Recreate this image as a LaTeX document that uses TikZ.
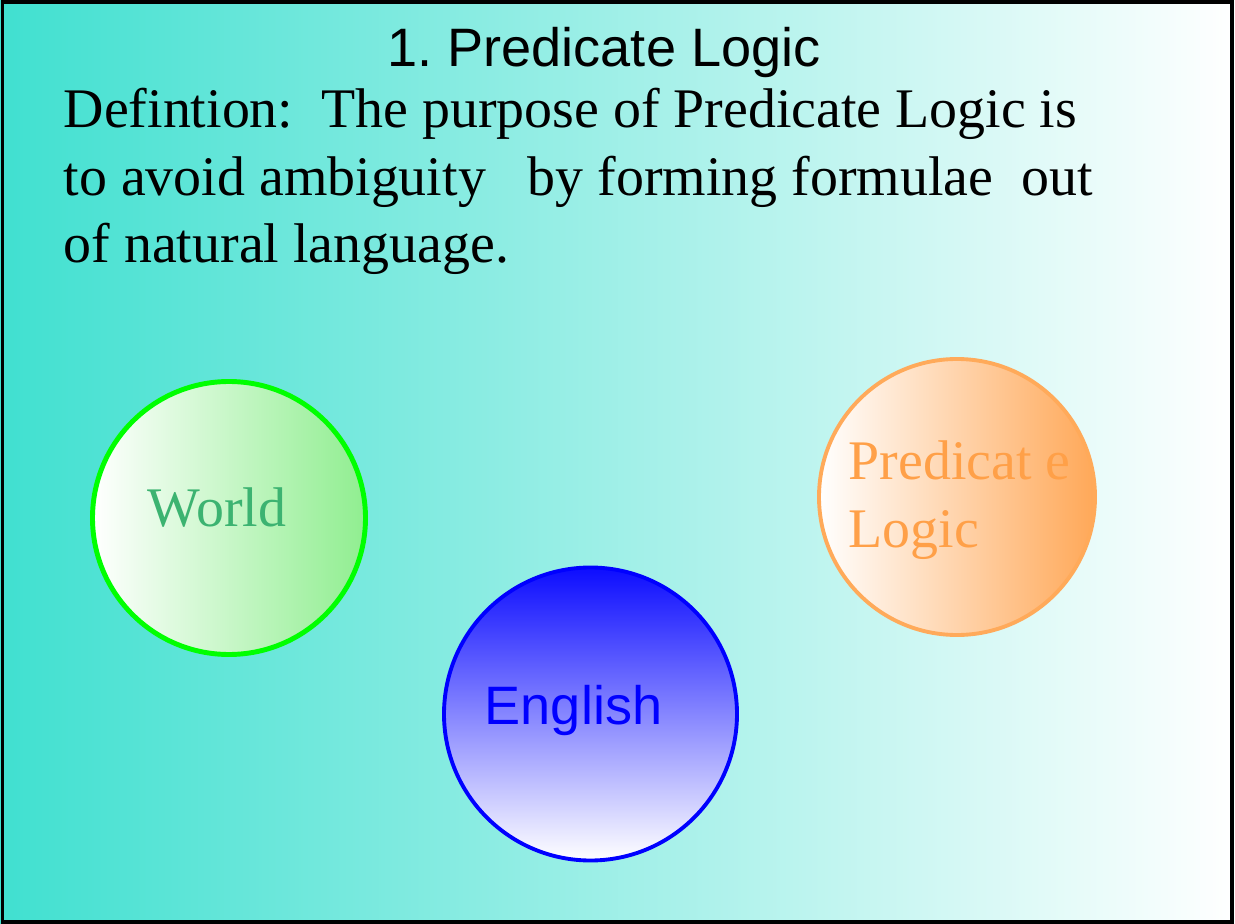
\documentclass[tikz,border=0pt]{standalone}
\usepackage{fontspec}
\setmainfont{Liberation Serif}
\setsansfont{Liberation Sans}
\usetikzlibrary{positioning}
\definecolor{turq}{RGB}{64,224,208}
\definecolor{worldline}{RGB}{0,255,0}
\definecolor{worldfill}{RGB}{144,238,144}
\definecolor{worldtext}{RGB}{60,179,113}
\definecolor{logicline}{RGB}{255,170,90}
\definecolor{logicfill}{RGB}{255,168,88}
\definecolor{logictext}{RGB}{255,160,72}
\definecolor{engblue}{RGB}{0,0,255}
\tikzset{
      slidetitle/.style={
        font=\sffamily\fontsize{15.4}{18}\selectfont,
        inner sep=0pt
      },
      deftext/.style={
        font=\fontsize{15.9}{19.3}\selectfont,
        align=left,
        inner sep=0pt
      },
      worldcircle/.style={
        circle,
        draw=worldline,
        line width=1.4pt,
        left color=white,
        right color=worldfill,
        minimum size=2.73cm,
        inner sep=0pt
      },
      englishcircle/.style={
        circle,
        draw=engblue,
        line width=1.1pt,
        top color=engblue!95,
        bottom color=white,
        minimum size=2.93cm,
        inner sep=0pt
      },
      logiccircle/.style={
        circle,
        draw=logicline,
        line width=1.1pt,
        left color=white,
        right color=logicfill,
        minimum size=2.76cm,
        inner sep=0pt
      }
    }
\begin{document}
\begin{tikzpicture}[x=1cm,y=1cm]
    \useasboundingbox (0,0) rectangle (12.35,-9.24);
    \shade[left color=turq, right color=white] (0,0) rectangle (12.35,-9.24);
    \draw[line width=0.9pt, black] (0.025,-0.02) rectangle (12.32,-9.22);
    \node[slidetitle, anchor=base] (title) at (6.04,-0.67) {1.\ Predicate Logic};
    \node[deftext, anchor=base west] (defn) at (0.63,-2.63) {Defintion:\ \ The purpose of Predicate Logic is\\
      to avoid ambiguity\ \ \ by forming formulae\ \ out\\
      of natural language.};
    \node[worldcircle] (world) at (2.29,-5.18) {};
    \node[englishcircle] (english) at (5.905,-7.14) {};
    \node[logiccircle] (logic) at (9.57,-4.97) {};
    \node[deftext, text=worldtext, anchor=base] (worldlabel) at ([xshift=-0.12cm,yshift=-0.09cm]world.center) {World};
    \node[slidetitle, text=engblue, anchor=base] (englishlabel) at ([xshift=-0.17cm,yshift=-0.10cm]english.center) {English};
    \node[deftext, text=logictext, anchor=base west] (logiclabel) at ([xshift=-1.09cm,yshift=-0.50cm]logic.center) {Predicat e\\Logic};
\end{tikzpicture}
\end{document}
